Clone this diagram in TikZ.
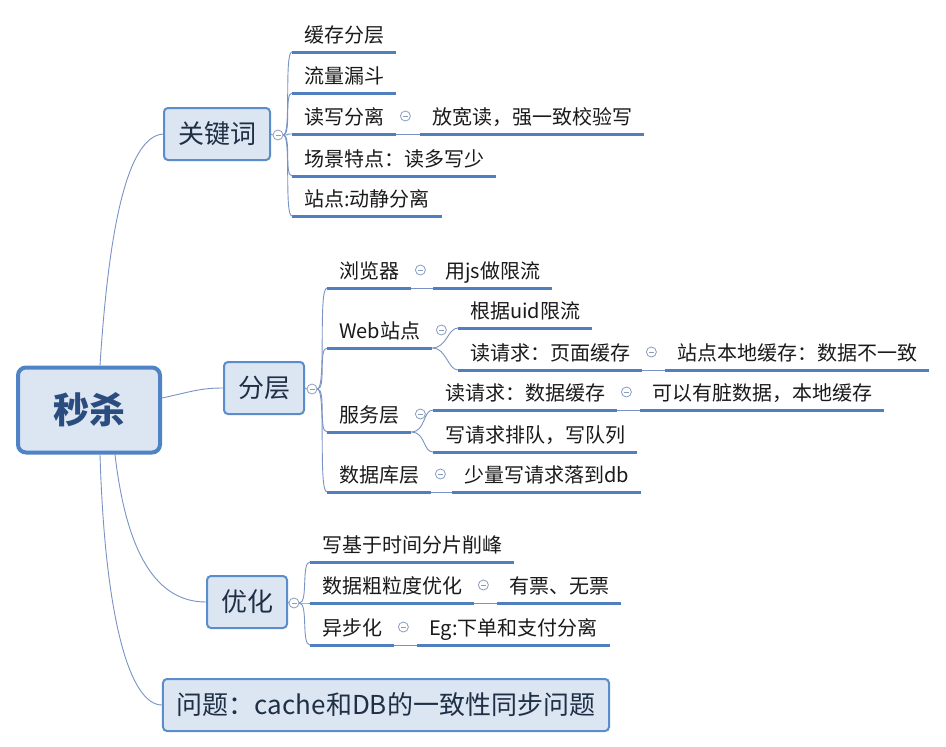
\documentclass[tikz,border=0pt]{standalone}
\usepackage{fontspec}
\setmainfont{Noto Sans CJK SC}
\usetikzlibrary{calc}
\definecolor{boxfill}{HTML}{DCE6F2}
\definecolor{boxline}{HTML}{5B8CCC}
\definecolor{rootline}{HTML}{4F83C6}
\definecolor{conn}{HTML}{7A93C4}
\definecolor{ulcol}{HTML}{4F7FBF}
\definecolor{togcol}{HTML}{8A9CC0}
\definecolor{maintext}{HTML}{1F2F45}
\definecolor{roottext}{HTML}{2B4C7E}
\definecolor{leaftext}{HTML}{1A1A1A}
\tikzset{
  rootbox/.style={draw=rootline, line width=4pt, fill=boxfill, rounded corners=8pt,
    minimum width=142pt, minimum height=85pt, font=\fontsize{36}{40}\selectfont\bfseries, text=roottext},
  mainbox/.style={draw=boxline, line width=2pt, fill=boxfill, rounded corners=4pt,
    minimum height=52pt, inner xsep=14pt, font=\fontsize{26}{30}\selectfont, text=maintext},
  leaf/.style={anchor=south west, inner xsep=12pt, inner ysep=5pt, text height=16pt, text depth=4pt,
    font=\fontsize{20}{24}\selectfont, text=leaftext},
  uline/.style={draw=ulcol, line width=3pt},
  link/.style={draw=conn, line width=0.9pt},
  tog/.style={circle, draw=togcol, fill=white, minimum size=10pt, inner sep=0pt, line width=0.8pt,
    path picture={\draw[togcol,line width=0.8pt] ([xshift=-2.5pt]path picture bounding box.center) -- ([xshift=2.5pt]path picture bounding box.center);}}
}
\begin{document}
\begin{tikzpicture}[x=1pt,y=-1pt]
\useasboundingbox[fill=white] (0,0) rectangle (946,747);

% root and main topics
\node[rootbox] (root) at (89,410) {秒杀};
\node[mainbox] (kw) at (217,134) {关键词};
\node[mainbox] (fc) at (264,388) {分层};
\node[mainbox] (yh) at (247,602) {优化};
\node[mainbox] (wt) at (386,705) {问题：cache和DB的一致性同步问题};

% root connectors
\draw[link] ($(root.north)+(11,0)$) .. controls (108,240) and (125,137) .. (kw.west);
\draw[link] ($(root.east)+(0,-12)$) .. controls (190,392) and (200,388) .. (fc.west);
\draw[link] ($(root.south)+(26,0)$) .. controls (125,540) and (150,602) .. (yh.west);
\draw[link] ($(root.south)+(11,0)$) .. controls (105,620) and (130,705) .. (wt.west);

% toggles of main topics
\node[tog] (kwt) at ($(kw.east)+(7,1)$) {};
\node[tog] (fct) at ($(fc.east)+(7,1)$) {};
\node[tog] (yht) at ($(yh.east)+(6,1)$) {};
\draw[link] (kw.east) -- (kwt.west);
\draw[link] (fc.east) -- (fct.west);
\draw[link] (yh.east) -- (yht.west);

% ---- 关键词 children
\node[leaf] (k1) at (292,52) {缓存分层};
\node[leaf] (k2) at (292,93) {流量漏斗};
\node[leaf] (k3) at (292,134) {读写分离};
\node[leaf] (k3a) at (420,134) {放宽读，强一致校验写};
\node[leaf] (k4) at (292,176) {场景特点：读多写少};
\node[leaf] (k5) at (292,216) {站点:动静分离};

% ---- 分层 children
\node[leaf] (f1) at (327,288) {浏览器};
\node[leaf] (f1a) at (433,288) {用js做限流};
\node[leaf] (f2) at (327,348) {Web站点};
\node[leaf] (f2a) at (458,328) {根据uid限流};
\node[leaf] (f2b) at (458,370) {读请求：页面缓存};
\node[leaf] (f2b1) at (665,370) {站点本地缓存：数据不一致};
\node[leaf] (f3) at (327,432) {服务层};
\node[leaf] (f3a) at (433,410) {读请求：数据缓存};
\node[leaf] (f3a1) at (640,410) {可以有脏数据，本地缓存};
\node[leaf] (f3b) at (433,452) {写请求排队，写队列};
\node[leaf] (f4) at (327,492) {数据库层};
\node[leaf] (f4a) at (452,492) {少量写请求落到db};

% ---- 优化 children
\node[leaf] (y1) at (310,562) {写基于时间分片削峰};
\node[leaf] (y2) at (310,603) {数据粗粒度优化};
\node[leaf] (y2a) at (497,603) {有票、无票};
\node[leaf] (y3) at (310,645) {异步化};
\node[leaf] (y3a) at (417,645) {Eg:下单和支付分离};

% underlines
\foreach \n in {k1,k2,k3,k3a,k4,k5,f1,f1a,f2,f2a,f2b,f2b1,f3,f3a,f3a1,f3b,f4,f4a,y1,y2,y2a,y3,y3a}
  \draw[uline] (\n.south west) -- (\n.south east);

% brackets from main topics
\foreach \c in {k1,k2,k3,k4,k5}
  \draw[link] (kwt.east) .. controls ($(kwt.east)+(8,0)$) and ($(\c.south west)+(-8,0)$) .. (\c.south west);
\foreach \c in {f1,f2,f3,f4}
  \draw[link] (fct.east) .. controls ($(fct.east)+(9,0)$) and ($(\c.south west)+(-9,0)$) .. (\c.south west);
\foreach \c in {y1,y2,y3}
  \draw[link] (yht.east) .. controls ($(yht.east)+(9,0)$) and ($(\c.south west)+(-9,0)$) .. (\c.south west);

% single-child links
\draw[link] (k3.south east) -- (k3a.south west);
\draw[link] (f1.south east) -- (f1a.south west);
\draw[link] (f2b.south east) -- (f2b1.south west);
\draw[link] (f3a.south east) -- (f3a1.south west);
\draw[link] (f4.south east) -- (f4a.south west);
\draw[link] (y2.south east) -- (y2a.south west);
\draw[link] (y3.south east) -- (y3a.south west);

% multi-child sub brackets
\foreach \c in {f2a,f2b}
  \draw[link] (f2.south east) .. controls ($(f2.south east)+(14,0)$) and ($(\c.south west)+(-10,0)$) .. (\c.south west);
\foreach \c in {f3a,f3b}
  \draw[link] (f3.south east) .. controls ($(f3.south east)+(14,0)$) and ($(\c.south west)+(-10,0)$) .. (\c.south west);

% toggles on sub topics
\foreach \n in {k3,f1,f2,f2b,f3,f3a,f4,y2,y3}
  \node[tog] at ($(\n.south east)+(9,-18)$) {};
\end{tikzpicture}
\end{document}
